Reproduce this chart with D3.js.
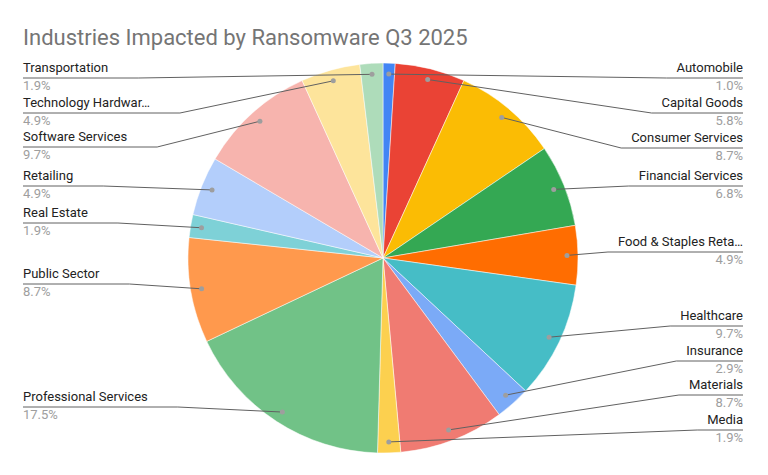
<!DOCTYPE html>
<html>
<head>
<script src="https://d3js.org/d3.v7.min.js"></script>
<style>
  body { margin: 0; background: #fff; font-family: Roboto, Arial, sans-serif; }
</style>
</head>
<body>
<svg id="chart" width="768" height="475"></svg>
<script>
// data (clockwise from 12 o'clock)
const categories = ['Automobile', 'Capital Goods', 'Consumer Services', 'Financial Services',
  'Food & Staples Reta\u2026', 'Healthcare', 'Insurance', 'Materials', 'Media',
  'Professional Services', 'Public Sector', 'Real Estate', 'Retailing',
  'Software Services', 'Technology Hardwar\u2026', 'Transportation'];
const values = [1.0, 5.8, 8.7, 6.8, 4.9, 9.7, 2.9, 8.7, 1.9, 17.5, 8.7, 1.9, 4.9, 9.7, 4.9, 1.9];
const colors = ['#4285f4', '#ea4335', '#fbbc04', '#34a853', '#ff6d01', '#46bdc6', '#7baaf7',
  '#f07b72', '#fcd04f', '#71c287', '#ff994d', '#7ed1d7', '#b3cefb', '#f7b4ae', '#fde49b', '#aedcba'];
// label baselines (name line)
const labelY = [72, 107, 142, 180, 246, 320, 355, 389, 424, 401, 278, 217, 180, 141, 107, 72];

const svg = d3.select('#chart');
const cx = 383, cy = 258, r = 195;

svg.append('text').attr('x', 23).attr('y', 45)
  .style('font-size', '22px').style('fill', '#757575')
  .text('Industries Impacted by Ransomware Q3 2025');

const pie = d3.pie().sort(null).value(d => d)(values);
const arc = d3.arc().innerRadius(0).outerRadius(r);
const g = svg.append('g').attr('transform', 'translate(' + cx + ',' + cy + ')');

g.selectAll('path').data(pie).enter().append('path')
  .attr('d', arc)
  .attr('fill', (d, i) => colors[i])
  .attr('stroke', '#fff').attr('stroke-width', 0.5);

const lab = svg.append('g');
pie.forEach(function(d, i) {
  const a = (d.startAngle + d.endAngle) / 2;
  const px = cx + Math.sin(a) * 184, py = cy - Math.cos(a) * 184;
  const right = a < Math.PI;
  const ex = right ? 743 : 23;
  const y = labelY[i];
  const name = lab.append('text').attr('x', ex).attr('y', y)
    .attr('text-anchor', right ? 'end' : 'start')
    .style('font-size', '13px').style('fill', '#222').text(categories[i]);
  lab.append('text').attr('x', ex).attr('y', y + 18)
    .attr('text-anchor', right ? 'end' : 'start')
    .style('font-size', '13px').style('fill', '#9e9e9e').text(values[i].toFixed(1) + '%');
  const w = name.node().getComputedTextLength();
  const ly = y + 6;
  const hx = right ? ex - w - 10 : ex + w + 30;
  lab.append('polyline')
    .attr('points', [[ex, ly], [hx, ly], [px, py]].map(p => p.join(',')).join(' '))
    .attr('fill', 'none').attr('stroke', '#616161').attr('stroke-width', 1);
  lab.append('circle').attr('cx', px).attr('cy', py).attr('r', 2.5).attr('fill', '#9e9e9e');
});
</script>
</body>
</html>
